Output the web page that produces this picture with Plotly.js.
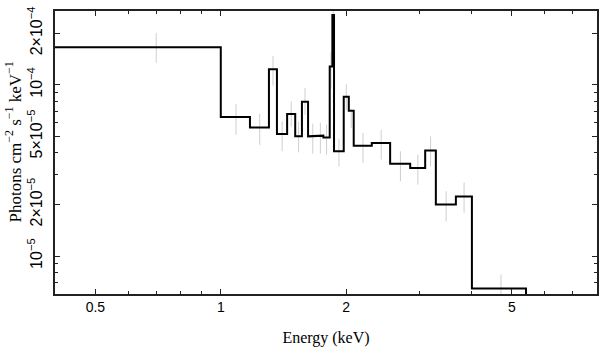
<!DOCTYPE html>
<html>
<head>
<meta charset="utf-8">
<script src="https://cdn.plot.ly/plotly-3.0.1.min.js"></script>
<style>html,body{margin:0;padding:0;background:#fff;}#chart{width:608px;height:357px;}</style>
</head>
<body>
<div id="chart"></div>
<script>
// Model step bins (keV) and folded model values (photons cm^-2 s^-1 keV^-1)
var binLo = [0.4, 1.0, 1.175, 1.305, 1.364, 1.443, 1.509, 1.566, 1.620, 1.705, 1.763, 1.826, 1.853, 1.870, 1.973, 2.029, 2.085, 2.304, 2.550, 2.849, 3.095, 3.283, 3.667, 4.007];
var binHi = [1.0, 1.175, 1.305, 1.364, 1.443, 1.509, 1.566, 1.620, 1.705, 1.763, 1.826, 1.853, 1.870, 1.973, 2.029, 2.085, 2.304, 2.550, 2.849, 3.095, 3.283, 3.667, 4.007, 5.403];
var modelY = [1.66e-4, 6.48e-5, 5.64e-5, 1.235e-4, 5.16e-5, 6.75e-5, 5.0e-5, 7.96e-5, 5.0e-5, 5.05e-5, 4.93e-5, 1.278e-4, 2.56e-4, 4.09e-5, 8.51e-5, 7.06e-5, 4.41e-5, 4.57e-5, 3.46e-5, 3.27e-5, 4.14e-5, 2.0e-5, 2.23e-5, 6.47e-6];
// Data points (grey error bars)
var dataY = [1.677e-4, 6.43e-5, 5.62e-5, 1.23e-4, 5.10e-5, 6.86e-5, 5.07e-5, 8.13e-5, 4.95e-5, 4.98e-5, 4.88e-5, 1.25e-4, 2.5e-4, 4.09e-5, 8.6e-5, 6.4e-5, 4.37e-5, 4.56e-5, 3.41e-5, 3.26e-5, 4.17e-5, 1.99e-5, 2.24e-5, 6.3e-6];
var dataErr = [3.33e-5, 1.32e-5, 1.16e-5, 2.4e-5, 1.01e-5, 1.15e-5, 1.04e-5, 1.44e-5, 0.98e-5, 1.02e-5, 0.97e-5, 3e-5, 3e-5, 0.76e-5, 1.47e-5, 0.8e-5, 0.87e-5, 0.9e-5, 0.68e-5, 0.65e-5, 0.83e-5, 0.4e-5, 0.45e-5, 1.5e-6];
// Tick labels
var xTickVals = [0.5, 1, 2, 5];
var xTickText = ['0.5', '1', '2', '5'];
var xMinorVals = [0.4, 0.6, 0.7, 0.8, 0.9, 3, 4, 6, 7, 8];
var yTickVals = [1e-5, 2e-5, 5e-5, 1e-4, 2e-4];
var yTickText = ['10<sup>\u22125</sup>', '2\u00d710<sup>\u22125</sup>', '5\u00d710<sup>\u22125</sup>', '10<sup>\u22124</sup>', '2\u00d710<sup>\u22124</sup>'];
var yMinorVals = [6e-6, 7e-6, 8e-6, 9e-6, 3e-5, 4e-5, 6e-5, 7e-5, 8e-5, 9e-5];
var yTitle = 'Photons cm<sup>\u22122</sup> s<sup>\u22121</sup> keV<sup>\u22121</sup>';

var dataE = binLo.map(function (lo, i) { return (lo + binHi[i]) / 2; });
var stepX = [], stepY = [];
for (var i = 0; i < binLo.length; i++) {
  stepX.push(binLo[i], binHi[i]);
  stepY.push(modelY[i], modelY[i]);
}
stepX.push(binHi[binHi.length - 1]);
stepY.push(1e-7);

var traces = [
  {
    x: dataE, y: dataY, type: 'scatter', mode: 'markers',
    marker: {size: 1, color: 'rgba(0,0,0,0)'},
    error_y: {type: 'data', array: dataErr, visible: true, color: '#cfcfcf', thickness: 1, width: 0},
    hoverinfo: 'skip', showlegend: false
  },
  {
    x: stepX, y: stepY, type: 'scatter', mode: 'lines',
    line: {color: '#000', width: 2}, showlegend: false
  }
];

var axisCommon = {
  type: 'log', showgrid: false, zeroline: false,
  showline: true, linecolor: '#222', linewidth: 1.6, mirror: 'ticks',
  ticks: 'inside', ticklen: 5, tickcolor: '#222', tickwidth: 1,
  tickmode: 'array',
  tickfont: {family: 'Liberation Sans, Arial, sans-serif', size: 14, color: '#000'}
};

var layout = {
  width: 608, height: 357,
  margin: {l: 55, r: 11, t: 11, b: 63},
  paper_bgcolor: '#fff', plot_bgcolor: '#fff',
  xaxis: Object.assign({}, axisCommon, {
    range: [Math.log10(0.4), Math.log10(8)],
    tickvals: xTickVals, ticktext: xTickText,
    minor: {tickmode: 'array', tickvals: xMinorVals, ticks: 'inside', ticklen: 3, tickcolor: '#222', showgrid: false},
    title: {text: 'Energy (keV)', font: {family: 'Liberation Serif, Times New Roman, serif', size: 16, color: '#000'}, standoff: 17}
  }),
  yaxis: Object.assign({}, axisCommon, {
    range: [Math.log10(6e-6), Math.log10(2.7e-4)],
    tickvals: yTickVals, ticktext: yTickText, tickangle: -90,
    ticklabelstandoff: 5,
    tickfont: {family: 'Liberation Sans, Arial, sans-serif', size: 16, color: '#000'},
    minor: {tickmode: 'array', tickvals: yMinorVals, ticks: 'inside', ticklen: 3, tickcolor: '#222', showgrid: false}
  }),
  annotations: [{
    text: yTitle, xref: 'paper', yref: 'paper', x: 0, y: 0.5,
    xanchor: 'center', yanchor: 'middle', xshift: -42, yshift: 10,
    textangle: -90, showarrow: false,
    font: {family: 'Liberation Serif, Times New Roman, serif', size: 17, color: '#000'}
  }],
  showlegend: false
};

Plotly.newPlot('chart', traces, layout, {displayModeBar: false, staticPlot: true});
</script>
</body>
</html>
